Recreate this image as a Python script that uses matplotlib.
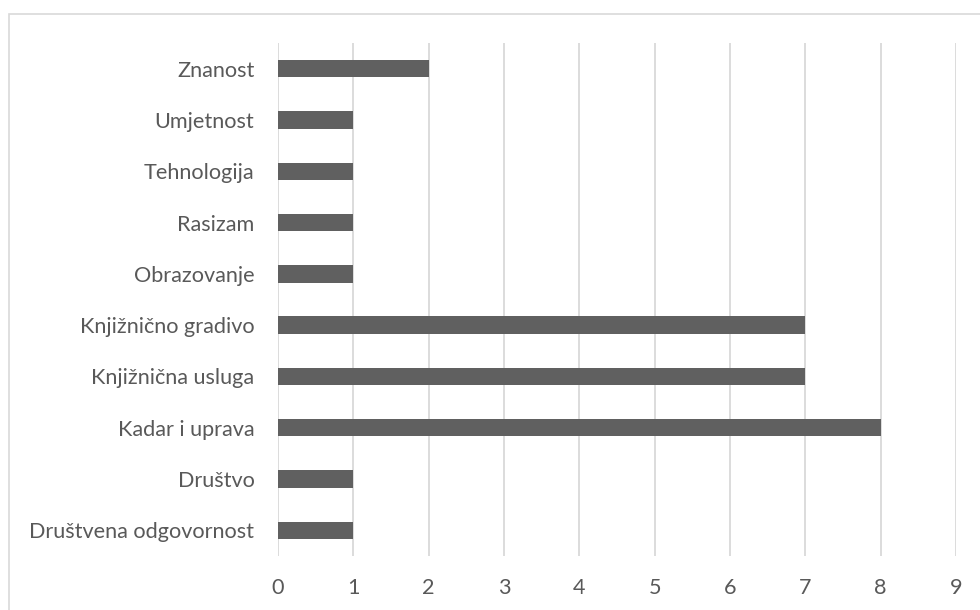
import matplotlib
matplotlib.use('Agg')
import matplotlib.pyplot as plt
from matplotlib.patches import Rectangle

# data, bottom to top as drawn
categories = ['Društvena odgovornost', 'Društvo', 'Kadar i uprava', 'Knjižnična usluga',
              'Knjižnično gradivo', 'Obrazovanje', 'Rasizam', 'Tehnologija',
              'Umjetnost', 'Znanost']
counts = [1, 1, 8, 7, 7, 1, 1, 1, 1, 2]
xticks = list(range(0, 10))

plt.rcParams['font.family'] = ['Lato', 'DejaVu Sans']
txt = '#595959'

fig = plt.figure(figsize=(9.8, 6.1), dpi=100)
ax = fig.add_axes([278 / 980, 1 - 556 / 610, 678 / 980, 513 / 610])

ax.barh(range(len(categories)), counts, height=0.34, color='#606060', zorder=3)
ax.set_xlim(0, 9)
ax.set_ylim(-0.5, len(categories) - 0.5)
ax.set_xticks(xticks)
ax.set_yticks(range(len(categories)))
ax.set_yticklabels(categories)
ax.tick_params(axis='both', length=0, colors=txt, labelsize=15.6)
ax.tick_params(axis='x', pad=16)
ax.tick_params(axis='y', pad=17)
ax.grid(axis='x', color='#d9d9d9', linewidth=1.3, zorder=0)
for s in ax.spines.values():
    s.set_visible(False)

# chart frame (runs off the right and bottom edges)
fig.patches.append(Rectangle((9 / 980, -0.05), 1.0, 1.05 - 14 / 610,
                             transform=fig.transFigure, fill=False,
                             edgecolor='#d9d9d9', linewidth=1.2))

fig.savefig('out.png', dpi=100)
